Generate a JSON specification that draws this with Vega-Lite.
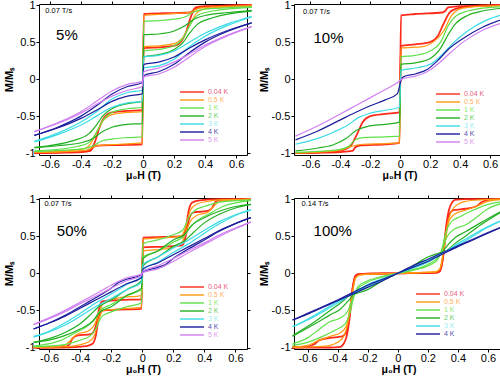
{
"$schema":"https://vega.github.io/schema/vega-lite/v6.json",
"background":"white",
"padding":{"left":2,"top":-2,"right":0,"bottom":0},
"config":{
 "view":{"stroke":"black","strokeWidth":1},
 "font":"Liberation Sans",
 "axis":{"domain":false,"grid":false,"tickColor":"black","tickSize":3,"labelFont":"Liberation Sans","labelFontSize":11,"labelColor":"black","labelPadding":1,"titleFont":"Liberation Sans","titleFontSize":11,"titleFontWeight":"bold","titleColor":"black","titlePadding":2,"labelOverlap":false},
 "axisX":{"titlePadding":1,"labelPadding":0,"titleFontSize":10.5},
 "legend":{"orient":"none","title":null,"symbolType":"M-3,0H3","symbolSize":64,"symbolStrokeWidth":1.4,"symbolFillColor":"transparent","labelFontSize":7,"labelFont":"Liberation Sans","rowPadding":0,"labelOffset":11,"padding":0,
  "labelColor":{"expr":"datum.label=='0.04 K'?'#e8607a':datum.label=='0.5 K'?'#ffb060':datum.label=='1 K'?'#8ee870':datum.label=='2 K'?'#66cc66':datum.label=='3 K'?'#99eeee':datum.label=='4 K'?'#5050b0':'#dd99ee'"}},
 "line":{"interpolate":"monotone"}
},
"datasets":{
"ann":[{"p":"5","rate":"0.07 T/s","pct":"5%"},{"p":"10","rate":"0.07 T/s","pct":"10%"},{"p":"50","rate":"0.07 T/s","pct":"50%"},{"p":"100","rate":"0.14 T/s","pct":"100%"}],
"m":[
{"p":"5","T":"0.04 K","c":"a","x":-0.7,"y":-1},{"p":"5","T":"0.04 K","c":"a","x":-0.55,"y":-0.995},{"p":"5","T":"0.04 K","c":"a","x":-0.4,"y":-0.985},{"p":"5","T":"0.04 K","c":"a","x":-0.34,"y":-0.97},{"p":"5","T":"0.04 K","c":"a","x":-0.32,"y":-0.92},{"p":"5","T":"0.04 K","c":"a","x":-0.3,"y":-0.9},{"p":"5","T":"0.04 K","c":"a","x":-0.15,"y":-0.89},{"p":"5","T":"0.04 K","c":"a","x":-0.005,"y":-0.88},
{"p":"5","T":"0.04 K","c":"a","x":0.005,"y":0.88},{"p":"5","T":"0.04 K","c":"a","x":0.15,"y":0.89},{"p":"5","T":"0.04 K","c":"a","x":0.3,"y":0.9},{"p":"5","T":"0.04 K","c":"a","x":0.32,"y":0.92},{"p":"5","T":"0.04 K","c":"a","x":0.34,"y":0.97},{"p":"5","T":"0.04 K","c":"a","x":0.4,"y":0.985},{"p":"5","T":"0.04 K","c":"a","x":0.55,"y":0.995},{"p":"5","T":"0.04 K","c":"a","x":0.7,"y":1},
{"p":"5","T":"0.04 K","c":"b","x":-0.7,"y":-1},{"p":"5","T":"0.04 K","c":"b","x":-0.55,"y":-0.99},{"p":"5","T":"0.04 K","c":"b","x":-0.4,"y":-0.98},{"p":"5","T":"0.04 K","c":"b","x":-0.34,"y":-0.95},{"p":"5","T":"0.04 K","c":"b","x":-0.31,"y":-0.85},{"p":"5","T":"0.04 K","c":"b","x":-0.28,"y":-0.65},{"p":"5","T":"0.04 K","c":"b","x":-0.25,"y":-0.52},{"p":"5","T":"0.04 K","c":"b","x":-0.2,"y":-0.45},{"p":"5","T":"0.04 K","c":"b","x":-0.1,"y":-0.43},{"p":"5","T":"0.04 K","c":"b","x":-0.005,"y":-0.42},
{"p":"5","T":"0.04 K","c":"b","x":0.005,"y":0.42},{"p":"5","T":"0.04 K","c":"b","x":0.1,"y":0.43},{"p":"5","T":"0.04 K","c":"b","x":0.2,"y":0.45},{"p":"5","T":"0.04 K","c":"b","x":0.25,"y":0.52},{"p":"5","T":"0.04 K","c":"b","x":0.28,"y":0.65},{"p":"5","T":"0.04 K","c":"b","x":0.31,"y":0.85},{"p":"5","T":"0.04 K","c":"b","x":0.34,"y":0.95},{"p":"5","T":"0.04 K","c":"b","x":0.4,"y":0.98},{"p":"5","T":"0.04 K","c":"b","x":0.55,"y":0.99},{"p":"5","T":"0.04 K","c":"b","x":0.7,"y":1},
{"p":"5","T":"0.5 K","c":"a","x":-0.7,"y":-0.99},{"p":"5","T":"0.5 K","c":"a","x":-0.45,"y":-0.975},{"p":"5","T":"0.5 K","c":"a","x":-0.36,"y":-0.96},{"p":"5","T":"0.5 K","c":"a","x":-0.33,"y":-0.93},{"p":"5","T":"0.5 K","c":"a","x":-0.3,"y":-0.9},{"p":"5","T":"0.5 K","c":"a","x":-0.15,"y":-0.88},{"p":"5","T":"0.5 K","c":"a","x":-0.005,"y":-0.86},
{"p":"5","T":"0.5 K","c":"a","x":0.005,"y":0.86},{"p":"5","T":"0.5 K","c":"a","x":0.15,"y":0.88},{"p":"5","T":"0.5 K","c":"a","x":0.3,"y":0.9},{"p":"5","T":"0.5 K","c":"a","x":0.33,"y":0.93},{"p":"5","T":"0.5 K","c":"a","x":0.36,"y":0.96},{"p":"5","T":"0.5 K","c":"a","x":0.45,"y":0.975},{"p":"5","T":"0.5 K","c":"a","x":0.7,"y":0.99},
{"p":"5","T":"0.5 K","c":"b","x":-0.7,"y":-0.99},{"p":"5","T":"0.5 K","c":"b","x":-0.5,"y":-0.97},{"p":"5","T":"0.5 K","c":"b","x":-0.38,"y":-0.94},{"p":"5","T":"0.5 K","c":"b","x":-0.34,"y":-0.88},{"p":"5","T":"0.5 K","c":"b","x":-0.3,"y":-0.72},{"p":"5","T":"0.5 K","c":"b","x":-0.26,"y":-0.57},{"p":"5","T":"0.5 K","c":"b","x":-0.2,"y":-0.48},{"p":"5","T":"0.5 K","c":"b","x":-0.1,"y":-0.45},{"p":"5","T":"0.5 K","c":"b","x":-0.005,"y":-0.44},
{"p":"5","T":"0.5 K","c":"b","x":0.005,"y":0.44},{"p":"5","T":"0.5 K","c":"b","x":0.1,"y":0.45},{"p":"5","T":"0.5 K","c":"b","x":0.2,"y":0.48},{"p":"5","T":"0.5 K","c":"b","x":0.26,"y":0.57},{"p":"5","T":"0.5 K","c":"b","x":0.3,"y":0.72},{"p":"5","T":"0.5 K","c":"b","x":0.34,"y":0.88},{"p":"5","T":"0.5 K","c":"b","x":0.38,"y":0.94},{"p":"5","T":"0.5 K","c":"b","x":0.5,"y":0.97},{"p":"5","T":"0.5 K","c":"b","x":0.7,"y":0.99},
{"p":"5","T":"1 K","c":"a","x":-0.7,"y":-0.98},{"p":"5","T":"1 K","c":"a","x":-0.5,"y":-0.96},{"p":"5","T":"1 K","c":"a","x":-0.38,"y":-0.94},{"p":"5","T":"1 K","c":"a","x":-0.32,"y":-0.9},{"p":"5","T":"1 K","c":"a","x":-0.27,"y":-0.84},{"p":"5","T":"1 K","c":"a","x":-0.2,"y":-0.81},{"p":"5","T":"1 K","c":"a","x":-0.1,"y":-0.79},{"p":"5","T":"1 K","c":"a","x":-0.005,"y":-0.78},
{"p":"5","T":"1 K","c":"a","x":0.005,"y":0.78},{"p":"5","T":"1 K","c":"a","x":0.1,"y":0.79},{"p":"5","T":"1 K","c":"a","x":0.2,"y":0.81},{"p":"5","T":"1 K","c":"a","x":0.27,"y":0.84},{"p":"5","T":"1 K","c":"a","x":0.32,"y":0.9},{"p":"5","T":"1 K","c":"a","x":0.38,"y":0.94},{"p":"5","T":"1 K","c":"a","x":0.5,"y":0.96},{"p":"5","T":"1 K","c":"a","x":0.7,"y":0.98},
{"p":"5","T":"1 K","c":"b","x":-0.7,"y":-0.97},{"p":"5","T":"1 K","c":"b","x":-0.45,"y":-0.92},{"p":"5","T":"1 K","c":"b","x":-0.35,"y":-0.86},{"p":"5","T":"1 K","c":"b","x":-0.3,"y":-0.72},{"p":"5","T":"1 K","c":"b","x":-0.26,"y":-0.56},{"p":"5","T":"1 K","c":"b","x":-0.2,"y":-0.45},{"p":"5","T":"1 K","c":"b","x":-0.1,"y":-0.4},{"p":"5","T":"1 K","c":"b","x":-0.005,"y":-0.38},
{"p":"5","T":"1 K","c":"b","x":0.005,"y":0.38},{"p":"5","T":"1 K","c":"b","x":0.1,"y":0.4},{"p":"5","T":"1 K","c":"b","x":0.2,"y":0.45},{"p":"5","T":"1 K","c":"b","x":0.26,"y":0.56},{"p":"5","T":"1 K","c":"b","x":0.3,"y":0.72},{"p":"5","T":"1 K","c":"b","x":0.35,"y":0.86},{"p":"5","T":"1 K","c":"b","x":0.45,"y":0.92},{"p":"5","T":"1 K","c":"b","x":0.7,"y":0.97},
{"p":"5","T":"2 K","c":"a","x":-0.7,"y":-0.93},{"p":"5","T":"2 K","c":"a","x":-0.55,"y":-0.9},{"p":"5","T":"2 K","c":"a","x":-0.4,"y":-0.86},{"p":"5","T":"2 K","c":"a","x":-0.32,"y":-0.8},{"p":"5","T":"2 K","c":"a","x":-0.27,"y":-0.72},{"p":"5","T":"2 K","c":"a","x":-0.2,"y":-0.65},{"p":"5","T":"2 K","c":"a","x":-0.1,"y":-0.61},{"p":"5","T":"2 K","c":"a","x":-0.005,"y":-0.6},
{"p":"5","T":"2 K","c":"a","x":0.005,"y":0.6},{"p":"5","T":"2 K","c":"a","x":0.1,"y":0.61},{"p":"5","T":"2 K","c":"a","x":0.2,"y":0.65},{"p":"5","T":"2 K","c":"a","x":0.27,"y":0.72},{"p":"5","T":"2 K","c":"a","x":0.32,"y":0.8},{"p":"5","T":"2 K","c":"a","x":0.4,"y":0.86},{"p":"5","T":"2 K","c":"a","x":0.55,"y":0.9},{"p":"5","T":"2 K","c":"a","x":0.7,"y":0.93},
{"p":"5","T":"2 K","c":"b","x":-0.7,"y":-0.92},{"p":"5","T":"2 K","c":"b","x":-0.45,"y":-0.83},{"p":"5","T":"2 K","c":"b","x":-0.35,"y":-0.74},{"p":"5","T":"2 K","c":"b","x":-0.3,"y":-0.62},{"p":"5","T":"2 K","c":"b","x":-0.26,"y":-0.5},{"p":"5","T":"2 K","c":"b","x":-0.2,"y":-0.4},{"p":"5","T":"2 K","c":"b","x":-0.1,"y":-0.33},{"p":"5","T":"2 K","c":"b","x":-0.005,"y":-0.3},
{"p":"5","T":"2 K","c":"b","x":0.005,"y":0.3},{"p":"5","T":"2 K","c":"b","x":0.1,"y":0.33},{"p":"5","T":"2 K","c":"b","x":0.2,"y":0.4},{"p":"5","T":"2 K","c":"b","x":0.26,"y":0.5},{"p":"5","T":"2 K","c":"b","x":0.3,"y":0.62},{"p":"5","T":"2 K","c":"b","x":0.35,"y":0.74},{"p":"5","T":"2 K","c":"b","x":0.45,"y":0.83},{"p":"5","T":"2 K","c":"b","x":0.7,"y":0.92},
{"p":"5","T":"3 K","c":"a","x":-0.7,"y":-0.85},{"p":"5","T":"3 K","c":"a","x":-0.55,"y":-0.75},{"p":"5","T":"3 K","c":"a","x":-0.4,"y":-0.62},{"p":"5","T":"3 K","c":"a","x":-0.3,"y":-0.5},{"p":"5","T":"3 K","c":"a","x":-0.2,"y":-0.38},{"p":"5","T":"3 K","c":"a","x":-0.1,"y":-0.32},{"p":"5","T":"3 K","c":"a","x":-0.005,"y":-0.3},
{"p":"5","T":"3 K","c":"a","x":0.005,"y":0.3},{"p":"5","T":"3 K","c":"a","x":0.1,"y":0.32},{"p":"5","T":"3 K","c":"a","x":0.2,"y":0.38},{"p":"5","T":"3 K","c":"a","x":0.3,"y":0.5},{"p":"5","T":"3 K","c":"a","x":0.4,"y":0.62},{"p":"5","T":"3 K","c":"a","x":0.55,"y":0.75},{"p":"5","T":"3 K","c":"a","x":0.7,"y":0.85},
{"p":"5","T":"3 K","c":"b","x":-0.7,"y":-0.84},{"p":"5","T":"3 K","c":"b","x":-0.55,"y":-0.73},{"p":"5","T":"3 K","c":"b","x":-0.4,"y":-0.58},{"p":"5","T":"3 K","c":"b","x":-0.3,"y":-0.44},{"p":"5","T":"3 K","c":"b","x":-0.2,"y":-0.27},{"p":"5","T":"3 K","c":"b","x":-0.1,"y":-0.18},{"p":"5","T":"3 K","c":"b","x":-0.005,"y":-0.15},
{"p":"5","T":"3 K","c":"b","x":0.005,"y":0.15},{"p":"5","T":"3 K","c":"b","x":0.1,"y":0.18},{"p":"5","T":"3 K","c":"b","x":0.2,"y":0.27},{"p":"5","T":"3 K","c":"b","x":0.3,"y":0.44},{"p":"5","T":"3 K","c":"b","x":0.4,"y":0.58},{"p":"5","T":"3 K","c":"b","x":0.55,"y":0.73},{"p":"5","T":"3 K","c":"b","x":0.7,"y":0.84},
{"p":"5","T":"4 K","c":"a","x":-0.7,"y":-0.76},{"p":"5","T":"4 K","c":"a","x":-0.55,"y":-0.66},{"p":"5","T":"4 K","c":"a","x":-0.4,"y":-0.53},{"p":"5","T":"4 K","c":"a","x":-0.3,"y":-0.42},{"p":"5","T":"4 K","c":"a","x":-0.2,"y":-0.3},{"p":"5","T":"4 K","c":"a","x":-0.1,"y":-0.23},{"p":"5","T":"4 K","c":"a","x":-0.005,"y":-0.2},
{"p":"5","T":"4 K","c":"a","x":0.005,"y":0.2},{"p":"5","T":"4 K","c":"a","x":0.1,"y":0.23},{"p":"5","T":"4 K","c":"a","x":0.2,"y":0.3},{"p":"5","T":"4 K","c":"a","x":0.3,"y":0.42},{"p":"5","T":"4 K","c":"a","x":0.4,"y":0.53},{"p":"5","T":"4 K","c":"a","x":0.55,"y":0.66},{"p":"5","T":"4 K","c":"a","x":0.7,"y":0.76},
{"p":"5","T":"4 K","c":"b","x":-0.7,"y":-0.76},{"p":"5","T":"4 K","c":"b","x":-0.55,"y":-0.65},{"p":"5","T":"4 K","c":"b","x":-0.4,"y":-0.5},{"p":"5","T":"4 K","c":"b","x":-0.3,"y":-0.36},{"p":"5","T":"4 K","c":"b","x":-0.2,"y":-0.2},{"p":"5","T":"4 K","c":"b","x":-0.1,"y":-0.1},{"p":"5","T":"4 K","c":"b","x":-0.005,"y":-0.05},
{"p":"5","T":"4 K","c":"b","x":0.005,"y":0.05},{"p":"5","T":"4 K","c":"b","x":0.1,"y":0.1},{"p":"5","T":"4 K","c":"b","x":0.2,"y":0.2},{"p":"5","T":"4 K","c":"b","x":0.3,"y":0.36},{"p":"5","T":"4 K","c":"b","x":0.4,"y":0.5},{"p":"5","T":"4 K","c":"b","x":0.55,"y":0.65},{"p":"5","T":"4 K","c":"b","x":0.7,"y":0.76},
{"p":"5","T":"5 K","c":"a","x":-0.7,"y":-0.71},{"p":"5","T":"5 K","c":"a","x":-0.55,"y":-0.6},{"p":"5","T":"5 K","c":"a","x":-0.4,"y":-0.46},{"p":"5","T":"5 K","c":"a","x":-0.3,"y":-0.34},{"p":"5","T":"5 K","c":"a","x":-0.2,"y":-0.23},{"p":"5","T":"5 K","c":"a","x":-0.1,"y":-0.15},{"p":"5","T":"5 K","c":"a","x":-0.005,"y":-0.1},
{"p":"5","T":"5 K","c":"a","x":0.005,"y":0.1},{"p":"5","T":"5 K","c":"a","x":0.1,"y":0.15},{"p":"5","T":"5 K","c":"a","x":0.2,"y":0.23},{"p":"5","T":"5 K","c":"a","x":0.3,"y":0.34},{"p":"5","T":"5 K","c":"a","x":0.4,"y":0.46},{"p":"5","T":"5 K","c":"a","x":0.55,"y":0.6},{"p":"5","T":"5 K","c":"a","x":0.7,"y":0.71},
{"p":"5","T":"5 K","c":"b","x":-0.7,"y":-0.71},{"p":"5","T":"5 K","c":"b","x":-0.55,"y":-0.59},{"p":"5","T":"5 K","c":"b","x":-0.4,"y":-0.44},{"p":"5","T":"5 K","c":"b","x":-0.3,"y":-0.3},{"p":"5","T":"5 K","c":"b","x":-0.2,"y":-0.16},{"p":"5","T":"5 K","c":"b","x":-0.1,"y":-0.07},{"p":"5","T":"5 K","c":"b","x":-0.005,"y":-0.03},
{"p":"5","T":"5 K","c":"b","x":0.005,"y":0.03},{"p":"5","T":"5 K","c":"b","x":0.1,"y":0.07},{"p":"5","T":"5 K","c":"b","x":0.2,"y":0.16},{"p":"5","T":"5 K","c":"b","x":0.3,"y":0.3},{"p":"5","T":"5 K","c":"b","x":0.4,"y":0.44},{"p":"5","T":"5 K","c":"b","x":0.55,"y":0.59},{"p":"5","T":"5 K","c":"b","x":0.7,"y":0.71},

{"p":"10","T":"0.04 K","c":"a","x":-0.7,"y":-1},{"p":"10","T":"0.04 K","c":"a","x":-0.55,"y":-0.995},{"p":"10","T":"0.04 K","c":"a","x":-0.4,"y":-0.985},{"p":"10","T":"0.04 K","c":"a","x":-0.32,"y":-0.97},{"p":"10","T":"0.04 K","c":"a","x":-0.3,"y":-0.92},{"p":"10","T":"0.04 K","c":"a","x":-0.28,"y":-0.9},{"p":"10","T":"0.04 K","c":"a","x":-0.1,"y":-0.88},{"p":"10","T":"0.04 K","c":"a","x":-0.005,"y":-0.86},
{"p":"10","T":"0.04 K","c":"a","x":0.005,"y":0.86},{"p":"10","T":"0.04 K","c":"a","x":0.1,"y":0.88},{"p":"10","T":"0.04 K","c":"a","x":0.28,"y":0.9},{"p":"10","T":"0.04 K","c":"a","x":0.3,"y":0.92},{"p":"10","T":"0.04 K","c":"a","x":0.32,"y":0.97},{"p":"10","T":"0.04 K","c":"a","x":0.4,"y":0.985},{"p":"10","T":"0.04 K","c":"a","x":0.55,"y":0.995},{"p":"10","T":"0.04 K","c":"a","x":0.7,"y":1},
{"p":"10","T":"0.04 K","c":"b","x":-0.7,"y":-1},{"p":"10","T":"0.04 K","c":"b","x":-0.45,"y":-0.98},{"p":"10","T":"0.04 K","c":"b","x":-0.37,"y":-0.95},{"p":"10","T":"0.04 K","c":"b","x":-0.33,"y":-0.9},{"p":"10","T":"0.04 K","c":"b","x":-0.29,"y":-0.75},{"p":"10","T":"0.04 K","c":"b","x":-0.25,"y":-0.58},{"p":"10","T":"0.04 K","c":"b","x":-0.2,"y":-0.5},{"p":"10","T":"0.04 K","c":"b","x":-0.1,"y":-0.47},{"p":"10","T":"0.04 K","c":"b","x":-0.005,"y":-0.45},
{"p":"10","T":"0.04 K","c":"b","x":0.005,"y":0.45},{"p":"10","T":"0.04 K","c":"b","x":0.1,"y":0.47},{"p":"10","T":"0.04 K","c":"b","x":0.2,"y":0.5},{"p":"10","T":"0.04 K","c":"b","x":0.25,"y":0.58},{"p":"10","T":"0.04 K","c":"b","x":0.29,"y":0.75},{"p":"10","T":"0.04 K","c":"b","x":0.33,"y":0.9},{"p":"10","T":"0.04 K","c":"b","x":0.37,"y":0.95},{"p":"10","T":"0.04 K","c":"b","x":0.45,"y":0.98},{"p":"10","T":"0.04 K","c":"b","x":0.7,"y":1},
{"p":"10","T":"0.5 K","c":"a","x":-0.7,"y":-1},{"p":"10","T":"0.5 K","c":"a","x":-0.5,"y":-0.98},{"p":"10","T":"0.5 K","c":"a","x":-0.4,"y":-0.96},{"p":"10","T":"0.5 K","c":"a","x":-0.33,"y":-0.91},{"p":"10","T":"0.5 K","c":"a","x":-0.25,"y":-0.88},{"p":"10","T":"0.5 K","c":"a","x":-0.1,"y":-0.87},{"p":"10","T":"0.5 K","c":"a","x":-0.005,"y":-0.86},
{"p":"10","T":"0.5 K","c":"a","x":0.005,"y":0.42},{"p":"10","T":"0.5 K","c":"a","x":0.15,"y":0.44},{"p":"10","T":"0.5 K","c":"a","x":0.22,"y":0.5},{"p":"10","T":"0.5 K","c":"a","x":0.29,"y":0.65},{"p":"10","T":"0.5 K","c":"a","x":0.34,"y":0.85},{"p":"10","T":"0.5 K","c":"a","x":0.4,"y":0.95},{"p":"10","T":"0.5 K","c":"a","x":0.5,"y":0.98},{"p":"10","T":"0.5 K","c":"a","x":0.7,"y":0.995},
{"p":"10","T":"1 K","c":"a","x":-0.7,"y":-0.99},{"p":"10","T":"1 K","c":"a","x":-0.5,"y":-0.97},{"p":"10","T":"1 K","c":"a","x":-0.4,"y":-0.95},{"p":"10","T":"1 K","c":"a","x":-0.34,"y":-0.9},{"p":"10","T":"1 K","c":"a","x":-0.3,"y":-0.82},{"p":"10","T":"1 K","c":"a","x":-0.25,"y":-0.79},{"p":"10","T":"1 K","c":"a","x":-0.1,"y":-0.78},{"p":"10","T":"1 K","c":"a","x":-0.005,"y":-0.77},
{"p":"10","T":"1 K","c":"a","x":0.005,"y":0.3},{"p":"10","T":"1 K","c":"a","x":0.1,"y":0.32},{"p":"10","T":"1 K","c":"a","x":0.2,"y":0.38},{"p":"10","T":"1 K","c":"a","x":0.27,"y":0.5},{"p":"10","T":"1 K","c":"a","x":0.32,"y":0.72},{"p":"10","T":"1 K","c":"a","x":0.37,"y":0.85},{"p":"10","T":"1 K","c":"a","x":0.45,"y":0.92},{"p":"10","T":"1 K","c":"a","x":0.55,"y":0.96},{"p":"10","T":"1 K","c":"a","x":0.7,"y":0.98},
{"p":"10","T":"2 K","c":"a","x":-0.7,"y":-0.97},{"p":"10","T":"2 K","c":"a","x":-0.55,"y":-0.93},{"p":"10","T":"2 K","c":"a","x":-0.45,"y":-0.89},{"p":"10","T":"2 K","c":"a","x":-0.36,"y":-0.8},{"p":"10","T":"2 K","c":"a","x":-0.3,"y":-0.7},{"p":"10","T":"2 K","c":"a","x":-0.22,"y":-0.64},{"p":"10","T":"2 K","c":"a","x":-0.1,"y":-0.61},{"p":"10","T":"2 K","c":"a","x":-0.005,"y":-0.58},
{"p":"10","T":"2 K","c":"a","x":0.005,"y":0.2},{"p":"10","T":"2 K","c":"a","x":0.1,"y":0.22},{"p":"10","T":"2 K","c":"a","x":0.2,"y":0.28},{"p":"10","T":"2 K","c":"a","x":0.27,"y":0.42},{"p":"10","T":"2 K","c":"a","x":0.32,"y":0.6},{"p":"10","T":"2 K","c":"a","x":0.37,"y":0.75},{"p":"10","T":"2 K","c":"a","x":0.45,"y":0.86},{"p":"10","T":"2 K","c":"a","x":0.55,"y":0.92},{"p":"10","T":"2 K","c":"a","x":0.7,"y":0.96},
{"p":"10","T":"3 K","c":"a","x":-0.7,"y":-0.88},{"p":"10","T":"3 K","c":"a","x":-0.55,"y":-0.8},{"p":"10","T":"3 K","c":"a","x":-0.45,"y":-0.72},{"p":"10","T":"3 K","c":"a","x":-0.35,"y":-0.62},{"p":"10","T":"3 K","c":"a","x":-0.28,"y":-0.52},{"p":"10","T":"3 K","c":"a","x":-0.2,"y":-0.46},{"p":"10","T":"3 K","c":"a","x":-0.1,"y":-0.42},{"p":"10","T":"3 K","c":"a","x":-0.005,"y":-0.38},
{"p":"10","T":"3 K","c":"a","x":0.005,"y":0.12},{"p":"10","T":"3 K","c":"a","x":0.1,"y":0.15},{"p":"10","T":"3 K","c":"a","x":0.2,"y":0.2},{"p":"10","T":"3 K","c":"a","x":0.28,"y":0.33},{"p":"10","T":"3 K","c":"a","x":0.35,"y":0.48},{"p":"10","T":"3 K","c":"a","x":0.45,"y":0.65},{"p":"10","T":"3 K","c":"a","x":0.58,"y":0.8},{"p":"10","T":"3 K","c":"a","x":0.7,"y":0.88},
{"p":"10","T":"4 K","c":"a","x":-0.7,"y":-0.82},{"p":"10","T":"4 K","c":"a","x":-0.55,"y":-0.7},{"p":"10","T":"4 K","c":"a","x":-0.4,"y":-0.55},{"p":"10","T":"4 K","c":"a","x":-0.3,"y":-0.45},{"p":"10","T":"4 K","c":"a","x":-0.2,"y":-0.36},{"p":"10","T":"4 K","c":"a","x":-0.1,"y":-0.28},{"p":"10","T":"4 K","c":"a","x":-0.02,"y":-0.2},
{"p":"10","T":"4 K","c":"a","x":0.005,"y":-0.02},{"p":"10","T":"4 K","c":"a","x":0.02,"y":0.03},{"p":"10","T":"4 K","c":"a","x":0.1,"y":0.07},{"p":"10","T":"4 K","c":"a","x":0.18,"y":0.13},{"p":"10","T":"4 K","c":"a","x":0.25,"y":0.25},{"p":"10","T":"4 K","c":"a","x":0.32,"y":0.4},{"p":"10","T":"4 K","c":"a","x":0.42,"y":0.55},{"p":"10","T":"4 K","c":"a","x":0.55,"y":0.7},{"p":"10","T":"4 K","c":"a","x":0.7,"y":0.82},
{"p":"10","T":"5 K","c":"a","x":-0.7,"y":-0.77},{"p":"10","T":"5 K","c":"a","x":-0.55,"y":-0.63},{"p":"10","T":"5 K","c":"a","x":-0.4,"y":-0.47},{"p":"10","T":"5 K","c":"a","x":-0.3,"y":-0.36},{"p":"10","T":"5 K","c":"a","x":-0.2,"y":-0.25},{"p":"10","T":"5 K","c":"a","x":-0.1,"y":-0.14},{"p":"10","T":"5 K","c":"a","x":-0.02,"y":-0.05},
{"p":"10","T":"5 K","c":"a","x":0.01,"y":0},{"p":"10","T":"5 K","c":"a","x":0.1,"y":0.04},{"p":"10","T":"5 K","c":"a","x":0.18,"y":0.1},{"p":"10","T":"5 K","c":"a","x":0.25,"y":0.2},{"p":"10","T":"5 K","c":"a","x":0.32,"y":0.33},{"p":"10","T":"5 K","c":"a","x":0.42,"y":0.5},{"p":"10","T":"5 K","c":"a","x":0.55,"y":0.66},{"p":"10","T":"5 K","c":"a","x":0.7,"y":0.77},

{"p":"50","T":"0.04 K","c":"a","x":-0.7,"y":-1},{"p":"50","T":"0.04 K","c":"a","x":-0.5,"y":-1},{"p":"50","T":"0.04 K","c":"a","x":-0.36,"y":-0.98},{"p":"50","T":"0.04 K","c":"a","x":-0.32,"y":-0.95},{"p":"50","T":"0.04 K","c":"a","x":-0.3,"y":-0.85},{"p":"50","T":"0.04 K","c":"a","x":-0.28,"y":-0.6},{"p":"50","T":"0.04 K","c":"a","x":-0.26,"y":-0.5},{"p":"50","T":"0.04 K","c":"a","x":-0.15,"y":-0.49},{"p":"50","T":"0.04 K","c":"a","x":-0.005,"y":-0.48},
{"p":"50","T":"0.04 K","c":"a","x":0.005,"y":0.48},{"p":"50","T":"0.04 K","c":"a","x":0.15,"y":0.49},{"p":"50","T":"0.04 K","c":"a","x":0.26,"y":0.5},{"p":"50","T":"0.04 K","c":"a","x":0.28,"y":0.6},{"p":"50","T":"0.04 K","c":"a","x":0.3,"y":0.85},{"p":"50","T":"0.04 K","c":"a","x":0.32,"y":0.95},{"p":"50","T":"0.04 K","c":"a","x":0.36,"y":0.98},{"p":"50","T":"0.04 K","c":"a","x":0.5,"y":1},{"p":"50","T":"0.04 K","c":"a","x":0.7,"y":1},
{"p":"50","T":"0.04 K","c":"b","x":-0.7,"y":-1},{"p":"50","T":"0.04 K","c":"b","x":-0.5,"y":-0.99},{"p":"50","T":"0.04 K","c":"b","x":-0.47,"y":-0.96},{"p":"50","T":"0.04 K","c":"b","x":-0.45,"y":-0.88},{"p":"50","T":"0.04 K","c":"b","x":-0.42,"y":-0.84},{"p":"50","T":"0.04 K","c":"b","x":-0.33,"y":-0.82},{"p":"50","T":"0.04 K","c":"b","x":-0.3,"y":-0.72},{"p":"50","T":"0.04 K","c":"b","x":-0.28,"y":-0.5},{"p":"50","T":"0.04 K","c":"b","x":-0.26,"y":-0.38},{"p":"50","T":"0.04 K","c":"b","x":-0.15,"y":-0.36},{"p":"50","T":"0.04 K","c":"b","x":-0.005,"y":-0.35},
{"p":"50","T":"0.04 K","c":"b","x":0.005,"y":0.35},{"p":"50","T":"0.04 K","c":"b","x":0.15,"y":0.36},{"p":"50","T":"0.04 K","c":"b","x":0.26,"y":0.38},{"p":"50","T":"0.04 K","c":"b","x":0.28,"y":0.5},{"p":"50","T":"0.04 K","c":"b","x":0.3,"y":0.72},{"p":"50","T":"0.04 K","c":"b","x":0.33,"y":0.82},{"p":"50","T":"0.04 K","c":"b","x":0.42,"y":0.84},{"p":"50","T":"0.04 K","c":"b","x":0.45,"y":0.88},{"p":"50","T":"0.04 K","c":"b","x":0.47,"y":0.96},{"p":"50","T":"0.04 K","c":"b","x":0.5,"y":0.99},{"p":"50","T":"0.04 K","c":"b","x":0.7,"y":1},
{"p":"50","T":"0.5 K","c":"a","x":-0.7,"y":-1},{"p":"50","T":"0.5 K","c":"a","x":-0.5,"y":-0.99},{"p":"50","T":"0.5 K","c":"a","x":-0.42,"y":-0.97},{"p":"50","T":"0.5 K","c":"a","x":-0.35,"y":-0.93},{"p":"50","T":"0.5 K","c":"a","x":-0.31,"y":-0.85},{"p":"50","T":"0.5 K","c":"a","x":-0.28,"y":-0.62},{"p":"50","T":"0.5 K","c":"a","x":-0.25,"y":-0.5},{"p":"50","T":"0.5 K","c":"a","x":-0.15,"y":-0.48},{"p":"50","T":"0.5 K","c":"a","x":-0.005,"y":-0.46},
{"p":"50","T":"0.5 K","c":"a","x":0.005,"y":0.46},{"p":"50","T":"0.5 K","c":"a","x":0.15,"y":0.48},{"p":"50","T":"0.5 K","c":"a","x":0.25,"y":0.5},{"p":"50","T":"0.5 K","c":"a","x":0.28,"y":0.62},{"p":"50","T":"0.5 K","c":"a","x":0.31,"y":0.85},{"p":"50","T":"0.5 K","c":"a","x":0.35,"y":0.93},{"p":"50","T":"0.5 K","c":"a","x":0.42,"y":0.97},{"p":"50","T":"0.5 K","c":"a","x":0.5,"y":0.99},{"p":"50","T":"0.5 K","c":"a","x":0.7,"y":1},
{"p":"50","T":"0.5 K","c":"b","x":-0.7,"y":-1},{"p":"50","T":"0.5 K","c":"b","x":-0.5,"y":-0.97},{"p":"50","T":"0.5 K","c":"b","x":-0.46,"y":-0.9},{"p":"50","T":"0.5 K","c":"b","x":-0.42,"y":-0.82},{"p":"50","T":"0.5 K","c":"b","x":-0.35,"y":-0.78},{"p":"50","T":"0.5 K","c":"b","x":-0.31,"y":-0.7},{"p":"50","T":"0.5 K","c":"b","x":-0.28,"y":-0.55},{"p":"50","T":"0.5 K","c":"b","x":-0.25,"y":-0.4},{"p":"50","T":"0.5 K","c":"b","x":-0.15,"y":-0.33},{"p":"50","T":"0.5 K","c":"b","x":-0.005,"y":-0.3},
{"p":"50","T":"0.5 K","c":"b","x":0.005,"y":0.3},{"p":"50","T":"0.5 K","c":"b","x":0.15,"y":0.33},{"p":"50","T":"0.5 K","c":"b","x":0.25,"y":0.4},{"p":"50","T":"0.5 K","c":"b","x":0.28,"y":0.55},{"p":"50","T":"0.5 K","c":"b","x":0.31,"y":0.7},{"p":"50","T":"0.5 K","c":"b","x":0.35,"y":0.78},{"p":"50","T":"0.5 K","c":"b","x":0.42,"y":0.82},{"p":"50","T":"0.5 K","c":"b","x":0.46,"y":0.9},{"p":"50","T":"0.5 K","c":"b","x":0.5,"y":0.97},{"p":"50","T":"0.5 K","c":"b","x":0.7,"y":1},
{"p":"50","T":"1 K","c":"a","x":-0.7,"y":-0.99},{"p":"50","T":"1 K","c":"a","x":-0.5,"y":-0.96},{"p":"50","T":"1 K","c":"a","x":-0.4,"y":-0.9},{"p":"50","T":"1 K","c":"a","x":-0.34,"y":-0.85},{"p":"50","T":"1 K","c":"a","x":-0.3,"y":-0.75},{"p":"50","T":"1 K","c":"a","x":-0.26,"y":-0.58},{"p":"50","T":"1 K","c":"a","x":-0.2,"y":-0.52},{"p":"50","T":"1 K","c":"a","x":-0.1,"y":-0.45},{"p":"50","T":"1 K","c":"a","x":-0.005,"y":-0.4},
{"p":"50","T":"1 K","c":"a","x":0.005,"y":0.4},{"p":"50","T":"1 K","c":"a","x":0.1,"y":0.45},{"p":"50","T":"1 K","c":"a","x":0.2,"y":0.52},{"p":"50","T":"1 K","c":"a","x":0.26,"y":0.58},{"p":"50","T":"1 K","c":"a","x":0.3,"y":0.75},{"p":"50","T":"1 K","c":"a","x":0.34,"y":0.85},{"p":"50","T":"1 K","c":"a","x":0.4,"y":0.9},{"p":"50","T":"1 K","c":"a","x":0.5,"y":0.96},{"p":"50","T":"1 K","c":"a","x":0.7,"y":0.99},
{"p":"50","T":"1 K","c":"b","x":-0.7,"y":-0.98},{"p":"50","T":"1 K","c":"b","x":-0.52,"y":-0.9},{"p":"50","T":"1 K","c":"b","x":-0.43,"y":-0.8},{"p":"50","T":"1 K","c":"b","x":-0.36,"y":-0.72},{"p":"50","T":"1 K","c":"b","x":-0.31,"y":-0.62},{"p":"50","T":"1 K","c":"b","x":-0.27,"y":-0.5},{"p":"50","T":"1 K","c":"b","x":-0.2,"y":-0.42},{"p":"50","T":"1 K","c":"b","x":-0.1,"y":-0.3},{"p":"50","T":"1 K","c":"b","x":-0.005,"y":-0.22},
{"p":"50","T":"1 K","c":"b","x":0.005,"y":0.22},{"p":"50","T":"1 K","c":"b","x":0.1,"y":0.3},{"p":"50","T":"1 K","c":"b","x":0.2,"y":0.42},{"p":"50","T":"1 K","c":"b","x":0.27,"y":0.5},{"p":"50","T":"1 K","c":"b","x":0.31,"y":0.62},{"p":"50","T":"1 K","c":"b","x":0.36,"y":0.72},{"p":"50","T":"1 K","c":"b","x":0.43,"y":0.8},{"p":"50","T":"1 K","c":"b","x":0.52,"y":0.9},{"p":"50","T":"1 K","c":"b","x":0.7,"y":0.98},
{"p":"50","T":"2 K","c":"a","x":-0.7,"y":-0.93},{"p":"50","T":"2 K","c":"a","x":-0.6,"y":-0.9},{"p":"50","T":"2 K","c":"a","x":-0.5,"y":-0.84},{"p":"50","T":"2 K","c":"a","x":-0.4,"y":-0.75},{"p":"50","T":"2 K","c":"a","x":-0.32,"y":-0.65},{"p":"50","T":"2 K","c":"a","x":-0.27,"y":-0.52},{"p":"50","T":"2 K","c":"a","x":-0.2,"y":-0.45},{"p":"50","T":"2 K","c":"a","x":-0.1,"y":-0.3},{"p":"50","T":"2 K","c":"a","x":-0.005,"y":-0.2},
{"p":"50","T":"2 K","c":"a","x":0.005,"y":0.2},{"p":"50","T":"2 K","c":"a","x":0.1,"y":0.3},{"p":"50","T":"2 K","c":"a","x":0.2,"y":0.45},{"p":"50","T":"2 K","c":"a","x":0.27,"y":0.52},{"p":"50","T":"2 K","c":"a","x":0.32,"y":0.65},{"p":"50","T":"2 K","c":"a","x":0.4,"y":0.75},{"p":"50","T":"2 K","c":"a","x":0.5,"y":0.84},{"p":"50","T":"2 K","c":"a","x":0.6,"y":0.9},{"p":"50","T":"2 K","c":"a","x":0.7,"y":0.93},
{"p":"50","T":"2 K","c":"b","x":-0.7,"y":-0.93},{"p":"50","T":"2 K","c":"b","x":-0.6,"y":-0.88},{"p":"50","T":"2 K","c":"b","x":-0.5,"y":-0.8},{"p":"50","T":"2 K","c":"b","x":-0.4,"y":-0.68},{"p":"50","T":"2 K","c":"b","x":-0.33,"y":-0.55},{"p":"50","T":"2 K","c":"b","x":-0.28,"y":-0.45},{"p":"50","T":"2 K","c":"b","x":-0.2,"y":-0.36},{"p":"50","T":"2 K","c":"b","x":-0.1,"y":-0.22},{"p":"50","T":"2 K","c":"b","x":-0.005,"y":-0.1},
{"p":"50","T":"2 K","c":"b","x":0.005,"y":0.1},{"p":"50","T":"2 K","c":"b","x":0.1,"y":0.22},{"p":"50","T":"2 K","c":"b","x":0.2,"y":0.36},{"p":"50","T":"2 K","c":"b","x":0.28,"y":0.45},{"p":"50","T":"2 K","c":"b","x":0.33,"y":0.55},{"p":"50","T":"2 K","c":"b","x":0.4,"y":0.68},{"p":"50","T":"2 K","c":"b","x":0.5,"y":0.8},{"p":"50","T":"2 K","c":"b","x":0.6,"y":0.88},{"p":"50","T":"2 K","c":"b","x":0.7,"y":0.93},
{"p":"50","T":"3 K","c":"a","x":-0.7,"y":-0.86},{"p":"50","T":"3 K","c":"a","x":-0.6,"y":-0.79},{"p":"50","T":"3 K","c":"a","x":-0.5,"y":-0.7},{"p":"50","T":"3 K","c":"a","x":-0.4,"y":-0.58},{"p":"50","T":"3 K","c":"a","x":-0.3,"y":-0.45},{"p":"50","T":"3 K","c":"a","x":-0.2,"y":-0.34},{"p":"50","T":"3 K","c":"a","x":-0.1,"y":-0.22},{"p":"50","T":"3 K","c":"a","x":-0.005,"y":-0.12},
{"p":"50","T":"3 K","c":"a","x":0.005,"y":0.12},{"p":"50","T":"3 K","c":"a","x":0.1,"y":0.22},{"p":"50","T":"3 K","c":"a","x":0.2,"y":0.34},{"p":"50","T":"3 K","c":"a","x":0.3,"y":0.45},{"p":"50","T":"3 K","c":"a","x":0.4,"y":0.58},{"p":"50","T":"3 K","c":"a","x":0.5,"y":0.7},{"p":"50","T":"3 K","c":"a","x":0.6,"y":0.79},{"p":"50","T":"3 K","c":"a","x":0.7,"y":0.86},
{"p":"50","T":"3 K","c":"b","x":-0.7,"y":-0.85},{"p":"50","T":"3 K","c":"b","x":-0.6,"y":-0.78},{"p":"50","T":"3 K","c":"b","x":-0.5,"y":-0.67},{"p":"50","T":"3 K","c":"b","x":-0.4,"y":-0.54},{"p":"50","T":"3 K","c":"b","x":-0.3,"y":-0.4},{"p":"50","T":"3 K","c":"b","x":-0.2,"y":-0.28},{"p":"50","T":"3 K","c":"b","x":-0.1,"y":-0.15},{"p":"50","T":"3 K","c":"b","x":-0.005,"y":-0.05},
{"p":"50","T":"3 K","c":"b","x":0.005,"y":0.05},{"p":"50","T":"3 K","c":"b","x":0.1,"y":0.15},{"p":"50","T":"3 K","c":"b","x":0.2,"y":0.28},{"p":"50","T":"3 K","c":"b","x":0.3,"y":0.4},{"p":"50","T":"3 K","c":"b","x":0.4,"y":0.54},{"p":"50","T":"3 K","c":"b","x":0.5,"y":0.67},{"p":"50","T":"3 K","c":"b","x":0.6,"y":0.78},{"p":"50","T":"3 K","c":"b","x":0.7,"y":0.85},
{"p":"50","T":"4 K","c":"a","x":-0.7,"y":-0.75},{"p":"50","T":"4 K","c":"a","x":-0.6,"y":-0.67},{"p":"50","T":"4 K","c":"a","x":-0.5,"y":-0.58},{"p":"50","T":"4 K","c":"a","x":-0.4,"y":-0.47},{"p":"50","T":"4 K","c":"a","x":-0.3,"y":-0.36},{"p":"50","T":"4 K","c":"a","x":-0.2,"y":-0.25},{"p":"50","T":"4 K","c":"a","x":-0.1,"y":-0.14},{"p":"50","T":"4 K","c":"a","x":-0.005,"y":-0.06},
{"p":"50","T":"4 K","c":"a","x":0.005,"y":0.06},{"p":"50","T":"4 K","c":"a","x":0.1,"y":0.14},{"p":"50","T":"4 K","c":"a","x":0.2,"y":0.25},{"p":"50","T":"4 K","c":"a","x":0.3,"y":0.36},{"p":"50","T":"4 K","c":"a","x":0.4,"y":0.47},{"p":"50","T":"4 K","c":"a","x":0.5,"y":0.58},{"p":"50","T":"4 K","c":"a","x":0.6,"y":0.67},{"p":"50","T":"4 K","c":"a","x":0.7,"y":0.75},
{"p":"50","T":"4 K","c":"b","x":-0.7,"y":-0.75},{"p":"50","T":"4 K","c":"b","x":-0.6,"y":-0.67},{"p":"50","T":"4 K","c":"b","x":-0.5,"y":-0.57},{"p":"50","T":"4 K","c":"b","x":-0.4,"y":-0.45},{"p":"50","T":"4 K","c":"b","x":-0.3,"y":-0.33},{"p":"50","T":"4 K","c":"b","x":-0.2,"y":-0.2},{"p":"50","T":"4 K","c":"b","x":-0.15,"y":-0.12},{"p":"50","T":"4 K","c":"b","x":-0.1,"y":-0.08},{"p":"50","T":"4 K","c":"b","x":-0.005,"y":-0.02},
{"p":"50","T":"4 K","c":"b","x":0.005,"y":0.02},{"p":"50","T":"4 K","c":"b","x":0.1,"y":0.08},{"p":"50","T":"4 K","c":"b","x":0.15,"y":0.12},{"p":"50","T":"4 K","c":"b","x":0.2,"y":0.2},{"p":"50","T":"4 K","c":"b","x":0.3,"y":0.33},{"p":"50","T":"4 K","c":"b","x":0.4,"y":0.45},{"p":"50","T":"4 K","c":"b","x":0.5,"y":0.57},{"p":"50","T":"4 K","c":"b","x":0.6,"y":0.67},{"p":"50","T":"4 K","c":"b","x":0.7,"y":0.75},
{"p":"50","T":"5 K","c":"a","x":-0.7,"y":-0.69},{"p":"50","T":"5 K","c":"a","x":-0.6,"y":-0.61},{"p":"50","T":"5 K","c":"a","x":-0.5,"y":-0.52},{"p":"50","T":"5 K","c":"a","x":-0.4,"y":-0.41},{"p":"50","T":"5 K","c":"a","x":-0.3,"y":-0.31},{"p":"50","T":"5 K","c":"a","x":-0.2,"y":-0.2},{"p":"50","T":"5 K","c":"a","x":-0.1,"y":-0.1},{"p":"50","T":"5 K","c":"a","x":-0.005,"y":-0.03},
{"p":"50","T":"5 K","c":"a","x":0.005,"y":0.03},{"p":"50","T":"5 K","c":"a","x":0.1,"y":0.1},{"p":"50","T":"5 K","c":"a","x":0.2,"y":0.2},{"p":"50","T":"5 K","c":"a","x":0.3,"y":0.31},{"p":"50","T":"5 K","c":"a","x":0.4,"y":0.41},{"p":"50","T":"5 K","c":"a","x":0.5,"y":0.52},{"p":"50","T":"5 K","c":"a","x":0.6,"y":0.61},{"p":"50","T":"5 K","c":"a","x":0.7,"y":0.69},
{"p":"50","T":"5 K","c":"b","x":-0.7,"y":-0.69},{"p":"50","T":"5 K","c":"b","x":-0.6,"y":-0.6},{"p":"50","T":"5 K","c":"b","x":-0.5,"y":-0.5},{"p":"50","T":"5 K","c":"b","x":-0.4,"y":-0.39},{"p":"50","T":"5 K","c":"b","x":-0.3,"y":-0.28},{"p":"50","T":"5 K","c":"b","x":-0.2,"y":-0.16},{"p":"50","T":"5 K","c":"b","x":-0.1,"y":-0.06},{"p":"50","T":"5 K","c":"b","x":-0.005,"y":-0.01},
{"p":"50","T":"5 K","c":"b","x":0.005,"y":0.01},{"p":"50","T":"5 K","c":"b","x":0.1,"y":0.06},{"p":"50","T":"5 K","c":"b","x":0.2,"y":0.16},{"p":"50","T":"5 K","c":"b","x":0.3,"y":0.28},{"p":"50","T":"5 K","c":"b","x":0.4,"y":0.39},{"p":"50","T":"5 K","c":"b","x":0.5,"y":0.5},{"p":"50","T":"5 K","c":"b","x":0.6,"y":0.6},{"p":"50","T":"5 K","c":"b","x":0.7,"y":0.69},

{"p":"100","T":"0.04 K","c":"a","x":-0.7,"y":-1},{"p":"100","T":"0.04 K","c":"a","x":-0.45,"y":-1},{"p":"100","T":"0.04 K","c":"a","x":-0.38,"y":-0.99},{"p":"100","T":"0.04 K","c":"a","x":-0.36,"y":-0.95},{"p":"100","T":"0.04 K","c":"a","x":-0.34,"y":-0.85},{"p":"100","T":"0.04 K","c":"a","x":-0.32,"y":-0.6},{"p":"100","T":"0.04 K","c":"a","x":-0.3,"y":-0.2},{"p":"100","T":"0.04 K","c":"a","x":-0.28,"y":-0.03},{"p":"100","T":"0.04 K","c":"a","x":-0.26,"y":-0.01},{"p":"100","T":"0.04 K","c":"a","x":0,"y":0},
{"p":"100","T":"0.04 K","c":"a","x":0.26,"y":0.01},{"p":"100","T":"0.04 K","c":"a","x":0.28,"y":0.03},{"p":"100","T":"0.04 K","c":"a","x":0.3,"y":0.2},{"p":"100","T":"0.04 K","c":"a","x":0.32,"y":0.6},{"p":"100","T":"0.04 K","c":"a","x":0.34,"y":0.85},{"p":"100","T":"0.04 K","c":"a","x":0.36,"y":0.95},{"p":"100","T":"0.04 K","c":"a","x":0.38,"y":0.99},{"p":"100","T":"0.04 K","c":"a","x":0.45,"y":1},{"p":"100","T":"0.04 K","c":"a","x":0.7,"y":1},
{"p":"100","T":"0.04 K","c":"b","x":-0.7,"y":-1},{"p":"100","T":"0.04 K","c":"b","x":-0.6,"y":-0.99},{"p":"100","T":"0.04 K","c":"b","x":-0.56,"y":-0.96},{"p":"100","T":"0.04 K","c":"b","x":-0.52,"y":-0.9},{"p":"100","T":"0.04 K","c":"b","x":-0.45,"y":-0.87},{"p":"100","T":"0.04 K","c":"b","x":-0.37,"y":-0.85},{"p":"100","T":"0.04 K","c":"b","x":-0.34,"y":-0.78},{"p":"100","T":"0.04 K","c":"b","x":-0.32,"y":-0.55},{"p":"100","T":"0.04 K","c":"b","x":-0.3,"y":-0.2},{"p":"100","T":"0.04 K","c":"b","x":-0.28,"y":-0.03},{"p":"100","T":"0.04 K","c":"b","x":-0.26,"y":-0.01},{"p":"100","T":"0.04 K","c":"b","x":0,"y":0},
{"p":"100","T":"0.04 K","c":"b","x":0.26,"y":0.01},{"p":"100","T":"0.04 K","c":"b","x":0.28,"y":0.03},{"p":"100","T":"0.04 K","c":"b","x":0.3,"y":0.2},{"p":"100","T":"0.04 K","c":"b","x":0.32,"y":0.55},{"p":"100","T":"0.04 K","c":"b","x":0.34,"y":0.78},{"p":"100","T":"0.04 K","c":"b","x":0.37,"y":0.85},{"p":"100","T":"0.04 K","c":"b","x":0.45,"y":0.87},{"p":"100","T":"0.04 K","c":"b","x":0.52,"y":0.9},{"p":"100","T":"0.04 K","c":"b","x":0.56,"y":0.96},{"p":"100","T":"0.04 K","c":"b","x":0.6,"y":0.99},{"p":"100","T":"0.04 K","c":"b","x":0.7,"y":1},
{"p":"100","T":"0.5 K","c":"a","x":-0.7,"y":-1},{"p":"100","T":"0.5 K","c":"a","x":-0.55,"y":-0.99},{"p":"100","T":"0.5 K","c":"a","x":-0.45,"y":-0.97},{"p":"100","T":"0.5 K","c":"a","x":-0.4,"y":-0.93},{"p":"100","T":"0.5 K","c":"a","x":-0.36,"y":-0.85},{"p":"100","T":"0.5 K","c":"a","x":-0.33,"y":-0.65},{"p":"100","T":"0.5 K","c":"a","x":-0.3,"y":-0.25},{"p":"100","T":"0.5 K","c":"a","x":-0.28,"y":-0.06},{"p":"100","T":"0.5 K","c":"a","x":-0.25,"y":-0.02},{"p":"100","T":"0.5 K","c":"a","x":0,"y":0},
{"p":"100","T":"0.5 K","c":"a","x":0.25,"y":0.02},{"p":"100","T":"0.5 K","c":"a","x":0.28,"y":0.06},{"p":"100","T":"0.5 K","c":"a","x":0.3,"y":0.25},{"p":"100","T":"0.5 K","c":"a","x":0.33,"y":0.65},{"p":"100","T":"0.5 K","c":"a","x":0.36,"y":0.85},{"p":"100","T":"0.5 K","c":"a","x":0.4,"y":0.93},{"p":"100","T":"0.5 K","c":"a","x":0.45,"y":0.97},{"p":"100","T":"0.5 K","c":"a","x":0.55,"y":0.99},{"p":"100","T":"0.5 K","c":"a","x":0.7,"y":1},
{"p":"100","T":"0.5 K","c":"b","x":-0.7,"y":-0.995},{"p":"100","T":"0.5 K","c":"b","x":-0.6,"y":-0.97},{"p":"100","T":"0.5 K","c":"b","x":-0.52,"y":-0.9},{"p":"100","T":"0.5 K","c":"b","x":-0.45,"y":-0.85},{"p":"100","T":"0.5 K","c":"b","x":-0.38,"y":-0.8},{"p":"100","T":"0.5 K","c":"b","x":-0.34,"y":-0.7},{"p":"100","T":"0.5 K","c":"b","x":-0.31,"y":-0.35},{"p":"100","T":"0.5 K","c":"b","x":-0.28,"y":-0.06},{"p":"100","T":"0.5 K","c":"b","x":-0.25,"y":-0.02},{"p":"100","T":"0.5 K","c":"b","x":0,"y":0},
{"p":"100","T":"0.5 K","c":"b","x":0.25,"y":0.02},{"p":"100","T":"0.5 K","c":"b","x":0.28,"y":0.06},{"p":"100","T":"0.5 K","c":"b","x":0.31,"y":0.35},{"p":"100","T":"0.5 K","c":"b","x":0.34,"y":0.7},{"p":"100","T":"0.5 K","c":"b","x":0.38,"y":0.8},{"p":"100","T":"0.5 K","c":"b","x":0.45,"y":0.85},{"p":"100","T":"0.5 K","c":"b","x":0.52,"y":0.9},{"p":"100","T":"0.5 K","c":"b","x":0.6,"y":0.97},{"p":"100","T":"0.5 K","c":"b","x":0.7,"y":0.995},
{"p":"100","T":"1 K","c":"a","x":-0.7,"y":-0.97},{"p":"100","T":"1 K","c":"a","x":-0.6,"y":-0.93},{"p":"100","T":"1 K","c":"a","x":-0.5,"y":-0.85},{"p":"100","T":"1 K","c":"a","x":-0.42,"y":-0.77},{"p":"100","T":"1 K","c":"a","x":-0.35,"y":-0.68},{"p":"100","T":"1 K","c":"a","x":-0.32,"y":-0.55},{"p":"100","T":"1 K","c":"a","x":-0.29,"y":-0.3},{"p":"100","T":"1 K","c":"a","x":-0.26,"y":-0.17},{"p":"100","T":"1 K","c":"a","x":-0.2,"y":-0.1},{"p":"100","T":"1 K","c":"a","x":-0.1,"y":-0.04},{"p":"100","T":"1 K","c":"a","x":0,"y":0},
{"p":"100","T":"1 K","c":"a","x":0.1,"y":0.04},{"p":"100","T":"1 K","c":"a","x":0.2,"y":0.1},{"p":"100","T":"1 K","c":"a","x":0.26,"y":0.17},{"p":"100","T":"1 K","c":"a","x":0.29,"y":0.3},{"p":"100","T":"1 K","c":"a","x":0.32,"y":0.55},{"p":"100","T":"1 K","c":"a","x":0.35,"y":0.68},{"p":"100","T":"1 K","c":"a","x":0.42,"y":0.77},{"p":"100","T":"1 K","c":"a","x":0.5,"y":0.85},{"p":"100","T":"1 K","c":"a","x":0.6,"y":0.93},{"p":"100","T":"1 K","c":"a","x":0.7,"y":0.97},
{"p":"100","T":"1 K","c":"b","x":-0.7,"y":-0.95},{"p":"100","T":"1 K","c":"b","x":-0.6,"y":-0.87},{"p":"100","T":"1 K","c":"b","x":-0.52,"y":-0.75},{"p":"100","T":"1 K","c":"b","x":-0.45,"y":-0.65},{"p":"100","T":"1 K","c":"b","x":-0.38,"y":-0.6},{"p":"100","T":"1 K","c":"b","x":-0.33,"y":-0.5},{"p":"100","T":"1 K","c":"b","x":-0.3,"y":-0.35},{"p":"100","T":"1 K","c":"b","x":-0.27,"y":-0.22},{"p":"100","T":"1 K","c":"b","x":-0.2,"y":-0.12},{"p":"100","T":"1 K","c":"b","x":-0.1,"y":-0.05},{"p":"100","T":"1 K","c":"b","x":0,"y":0},
{"p":"100","T":"1 K","c":"b","x":0.1,"y":0.05},{"p":"100","T":"1 K","c":"b","x":0.2,"y":0.12},{"p":"100","T":"1 K","c":"b","x":0.27,"y":0.22},{"p":"100","T":"1 K","c":"b","x":0.3,"y":0.35},{"p":"100","T":"1 K","c":"b","x":0.33,"y":0.5},{"p":"100","T":"1 K","c":"b","x":0.38,"y":0.6},{"p":"100","T":"1 K","c":"b","x":0.45,"y":0.65},{"p":"100","T":"1 K","c":"b","x":0.52,"y":0.75},{"p":"100","T":"1 K","c":"b","x":0.6,"y":0.87},{"p":"100","T":"1 K","c":"b","x":0.7,"y":0.95},
{"p":"100","T":"2 K","c":"a","x":-0.7,"y":-0.85},{"p":"100","T":"2 K","c":"a","x":-0.55,"y":-0.68},{"p":"100","T":"2 K","c":"a","x":-0.45,"y":-0.56},{"p":"100","T":"2 K","c":"a","x":-0.38,"y":-0.48},{"p":"100","T":"2 K","c":"a","x":-0.32,"y":-0.35},{"p":"100","T":"2 K","c":"a","x":-0.28,"y":-0.25},{"p":"100","T":"2 K","c":"a","x":-0.2,"y":-0.18},{"p":"100","T":"2 K","c":"a","x":-0.1,"y":-0.08},{"p":"100","T":"2 K","c":"a","x":0,"y":0},
{"p":"100","T":"2 K","c":"a","x":0.1,"y":0.08},{"p":"100","T":"2 K","c":"a","x":0.2,"y":0.18},{"p":"100","T":"2 K","c":"a","x":0.28,"y":0.25},{"p":"100","T":"2 K","c":"a","x":0.32,"y":0.35},{"p":"100","T":"2 K","c":"a","x":0.38,"y":0.48},{"p":"100","T":"2 K","c":"a","x":0.45,"y":0.56},{"p":"100","T":"2 K","c":"a","x":0.55,"y":0.68},{"p":"100","T":"2 K","c":"a","x":0.7,"y":0.85},
{"p":"100","T":"2 K","c":"b","x":-0.7,"y":-0.84},{"p":"100","T":"2 K","c":"b","x":-0.55,"y":-0.65},{"p":"100","T":"2 K","c":"b","x":-0.45,"y":-0.5},{"p":"100","T":"2 K","c":"b","x":-0.38,"y":-0.4},{"p":"100","T":"2 K","c":"b","x":-0.32,"y":-0.3},{"p":"100","T":"2 K","c":"b","x":-0.27,"y":-0.27},{"p":"100","T":"2 K","c":"b","x":-0.2,"y":-0.22},{"p":"100","T":"2 K","c":"b","x":-0.1,"y":-0.1},{"p":"100","T":"2 K","c":"b","x":0,"y":0},
{"p":"100","T":"2 K","c":"b","x":0.1,"y":0.1},{"p":"100","T":"2 K","c":"b","x":0.2,"y":0.22},{"p":"100","T":"2 K","c":"b","x":0.27,"y":0.27},{"p":"100","T":"2 K","c":"b","x":0.32,"y":0.3},{"p":"100","T":"2 K","c":"b","x":0.38,"y":0.4},{"p":"100","T":"2 K","c":"b","x":0.45,"y":0.5},{"p":"100","T":"2 K","c":"b","x":0.55,"y":0.65},{"p":"100","T":"2 K","c":"b","x":0.7,"y":0.84},
{"p":"100","T":"3 K","c":"a","x":-0.7,"y":-0.72},{"p":"100","T":"3 K","c":"a","x":-0.6,"y":-0.63},{"p":"100","T":"3 K","c":"a","x":-0.5,"y":-0.52},{"p":"100","T":"3 K","c":"a","x":-0.4,"y":-0.4},{"p":"100","T":"3 K","c":"a","x":-0.3,"y":-0.27},{"p":"100","T":"3 K","c":"a","x":-0.2,"y":-0.15},{"p":"100","T":"3 K","c":"a","x":-0.1,"y":-0.07},{"p":"100","T":"3 K","c":"a","x":0,"y":0},
{"p":"100","T":"3 K","c":"a","x":0.1,"y":0.07},{"p":"100","T":"3 K","c":"a","x":0.2,"y":0.15},{"p":"100","T":"3 K","c":"a","x":0.3,"y":0.27},{"p":"100","T":"3 K","c":"a","x":0.4,"y":0.4},{"p":"100","T":"3 K","c":"a","x":0.5,"y":0.52},{"p":"100","T":"3 K","c":"a","x":0.6,"y":0.63},{"p":"100","T":"3 K","c":"a","x":0.7,"y":0.72},
{"p":"100","T":"3 K","c":"b","x":-0.7,"y":-0.72},{"p":"100","T":"3 K","c":"b","x":-0.6,"y":-0.62},{"p":"100","T":"3 K","c":"b","x":-0.5,"y":-0.5},{"p":"100","T":"3 K","c":"b","x":-0.4,"y":-0.38},{"p":"100","T":"3 K","c":"b","x":-0.3,"y":-0.28},{"p":"100","T":"3 K","c":"b","x":-0.2,"y":-0.18},{"p":"100","T":"3 K","c":"b","x":-0.1,"y":-0.09},{"p":"100","T":"3 K","c":"b","x":0,"y":0},
{"p":"100","T":"3 K","c":"b","x":0.1,"y":0.09},{"p":"100","T":"3 K","c":"b","x":0.2,"y":0.18},{"p":"100","T":"3 K","c":"b","x":0.3,"y":0.28},{"p":"100","T":"3 K","c":"b","x":0.4,"y":0.38},{"p":"100","T":"3 K","c":"b","x":0.5,"y":0.5},{"p":"100","T":"3 K","c":"b","x":0.6,"y":0.62},{"p":"100","T":"3 K","c":"b","x":0.7,"y":0.72},
{"p":"100","T":"4 K","c":"a","x":-0.7,"y":-0.63},{"p":"100","T":"4 K","c":"a","x":-0.6,"y":-0.54},{"p":"100","T":"4 K","c":"a","x":-0.5,"y":-0.45},{"p":"100","T":"4 K","c":"a","x":-0.4,"y":-0.36},{"p":"100","T":"4 K","c":"a","x":-0.3,"y":-0.26},{"p":"100","T":"4 K","c":"a","x":-0.2,"y":-0.16},{"p":"100","T":"4 K","c":"a","x":-0.1,"y":-0.08},{"p":"100","T":"4 K","c":"a","x":0,"y":0},
{"p":"100","T":"4 K","c":"a","x":0.1,"y":0.08},{"p":"100","T":"4 K","c":"a","x":0.2,"y":0.16},{"p":"100","T":"4 K","c":"a","x":0.3,"y":0.26},{"p":"100","T":"4 K","c":"a","x":0.4,"y":0.36},{"p":"100","T":"4 K","c":"a","x":0.5,"y":0.45},{"p":"100","T":"4 K","c":"a","x":0.6,"y":0.54},{"p":"100","T":"4 K","c":"a","x":0.7,"y":0.63},
{"p":"100","T":"4 K","c":"b","x":-0.7,"y":-0.63},{"p":"100","T":"4 K","c":"b","x":-0.6,"y":-0.55},{"p":"100","T":"4 K","c":"b","x":-0.5,"y":-0.46},{"p":"100","T":"4 K","c":"b","x":-0.4,"y":-0.37},{"p":"100","T":"4 K","c":"b","x":-0.3,"y":-0.28},{"p":"100","T":"4 K","c":"b","x":-0.2,"y":-0.19},{"p":"100","T":"4 K","c":"b","x":-0.1,"y":-0.1},{"p":"100","T":"4 K","c":"b","x":0,"y":0},
{"p":"100","T":"4 K","c":"b","x":0.1,"y":0.1},{"p":"100","T":"4 K","c":"b","x":0.2,"y":0.19},{"p":"100","T":"4 K","c":"b","x":0.3,"y":0.28},{"p":"100","T":"4 K","c":"b","x":0.4,"y":0.37},{"p":"100","T":"4 K","c":"b","x":0.5,"y":0.46},{"p":"100","T":"4 K","c":"b","x":0.6,"y":0.55},{"p":"100","T":"4 K","c":"b","x":0.7,"y":0.63}
]},
"columns":2,
"bounds":"flush",
"spacing":{"row":43,"column":47},
"resolve":{"scale":{"color":"independent","x":"independent","y":"independent"},"legend":{"color":"independent"}},
"concat":[
{"width":208,"height":151,"resolve":{"axis":{"x":"independent","y":"independent"}},
 "layer":[
 {"data":{"name":"m"},"transform":[{"filter":"datum.p=='5'"}],"mark":{"type":"line"},
  "encoding":{
   "x":{"field":"x","type":"quantitative","scale":{"domain":[-0.67,0.67],"nice":false,"zero":false},"axis":{"values":[-0.6,-0.4,-0.2,0,0.2,0.4,0.6],"labelExpr":"toString(datum.value)","title":"μ₀H (T)"}},
   "y":{"field":"y","type":"quantitative","scale":{"domain":[-1.025,1.015],"nice":false},"axis":{"values":[-1,-0.5,0,0.5,1],"labelExpr":"toString(datum.value)","title":"M/Mₛ"}},
   "color":{"field":"T","type":"nominal","scale":{"domain":["0.04 K","0.5 K","1 K","2 K","3 K","4 K","5 K"],"range":["#ff2a1a","#ff9a10","#5ee048","#22b022","#3adbe6","#1c1c9c","#d07ef0"]},"legend":{"legendX":148,"legendY":83}},
   "strokeWidth":{"condition":{"test":"datum.T=='0.04 K'","value":1.8},"value":1.2},
   "detail":{"field":"c"}}},
 {"data":{"name":"ann"},"transform":[{"filter":"datum.p=='5'"}],"mark":{"type":"text","align":"left","baseline":"middle","fontSize":7.5,"font":"Liberation Sans"},
  "encoding":{"x":{"datum":-0.63,"type":"quantitative","axis":{"orient":"top","values":[-0.6,-0.4,-0.2,0,0.2,0.4,0.6],"labels":false,"title":null}},
   "y":{"datum":0.92,"type":"quantitative","axis":{"orient":"right","values":[-1,-0.5,0,0.5,1],"labels":false,"title":null}},"text":{"field":"rate"}}},
 {"data":{"name":"ann"},"transform":[{"filter":"datum.p=='5'"}],"mark":{"type":"text","align":"left","baseline":"middle","fontSize":15,"font":"Liberation Sans"},
  "encoding":{"x":{"datum":-0.56,"type":"quantitative","axis":null},"y":{"datum":0.6,"type":"quantitative","axis":null},"text":{"field":"pct"}}}
 ]},
{"width":211,"height":151,"resolve":{"axis":{"x":"independent","y":"independent"}},
 "layer":[
 {"data":{"name":"m"},"transform":[{"filter":"datum.p=='10'"}],"mark":{"type":"line"},
  "encoding":{
   "x":{"field":"x","type":"quantitative","scale":{"domain":[-0.71,0.7],"nice":false,"zero":false},"axis":{"values":[-0.6,-0.4,-0.2,0,0.2,0.4,0.6],"labelExpr":"toString(datum.value)","title":"μ₀H (T)"}},
   "y":{"field":"y","type":"quantitative","scale":{"domain":[-1.025,1.015],"nice":false},"axis":{"values":[-1,-0.5,0,0.5,1],"labelExpr":"toString(datum.value)","title":"M/Mₛ"}},
   "color":{"field":"T","type":"nominal","scale":{"domain":["0.04 K","0.5 K","1 K","2 K","3 K","4 K","5 K"],"range":["#ff2a1a","#ff9a10","#5ee048","#22b022","#3adbe6","#1c1c9c","#d07ef0"]},"legend":{"legendX":149,"legendY":85}},
   "strokeWidth":{"condition":{"test":"datum.T=='0.04 K'","value":1.8},"value":1.2},
   "detail":{"field":"c"}}},
 {"data":{"name":"ann"},"transform":[{"filter":"datum.p=='10'"}],"mark":{"type":"text","align":"left","baseline":"middle","fontSize":7.5,"font":"Liberation Sans"},
  "encoding":{"x":{"datum":-0.65,"type":"quantitative","axis":{"orient":"top","values":[-0.6,-0.4,-0.2,0,0.2,0.4,0.6],"labels":false,"title":null}},
   "y":{"datum":0.91,"type":"quantitative","axis":{"orient":"right","values":[-1,-0.5,0,0.5,1],"labels":false,"title":null}},"text":{"field":"rate"}}},
 {"data":{"name":"ann"},"transform":[{"filter":"datum.p=='10'"}],"mark":{"type":"text","align":"left","baseline":"middle","fontSize":15,"font":"Liberation Sans"},
  "encoding":{"x":{"datum":-0.58,"type":"quantitative","axis":null},"y":{"datum":0.56,"type":"quantitative","axis":null},"text":{"field":"pct"}}}
 ]},
{"width":208,"height":151,"resolve":{"axis":{"x":"independent","y":"independent"}},
 "layer":[
 {"data":{"name":"m"},"transform":[{"filter":"datum.p=='50'"}],"mark":{"type":"line"},
  "encoding":{
   "x":{"field":"x","type":"quantitative","scale":{"domain":[-0.665,0.675],"nice":false,"zero":false},"axis":{"values":[-0.6,-0.4,-0.2,0,0.2,0.4,0.6],"labelExpr":"toString(datum.value)","title":"μ₀H (T)"}},
   "y":{"field":"y","type":"quantitative","scale":{"domain":[-1.02,1.015],"nice":false},"axis":{"values":[-1,-0.5,0,0.5,1],"labelExpr":"toString(datum.value)","title":"M/Mₛ"}},
   "color":{"field":"T","type":"nominal","scale":{"domain":["0.04 K","0.5 K","1 K","2 K","3 K","4 K","5 K"],"range":["#ff2a1a","#ff9a10","#5ee048","#22b022","#3adbe6","#1c1c9c","#d07ef0"]},"legend":{"legendX":148,"legendY":84}},
   "strokeWidth":{"condition":{"test":"datum.T=='0.04 K'","value":1.8},"value":1.2},
   "detail":{"field":"c"}}},
 {"data":{"name":"ann"},"transform":[{"filter":"datum.p=='50'"}],"mark":{"type":"text","align":"left","baseline":"middle","fontSize":7.5,"font":"Liberation Sans"},
  "encoding":{"x":{"datum":-0.63,"type":"quantitative","axis":{"orient":"top","values":[-0.6,-0.4,-0.2,0,0.2,0.4,0.6],"labels":false,"title":null}},
   "y":{"datum":0.93,"type":"quantitative","axis":{"orient":"right","values":[-1,-0.5,0,0.5,1],"labels":false,"title":null}},"text":{"field":"rate"}}},
 {"data":{"name":"ann"},"transform":[{"filter":"datum.p=='50'"}],"mark":{"type":"text","align":"left","baseline":"middle","fontSize":15,"font":"Liberation Sans"},
  "encoding":{"x":{"datum":-0.55,"type":"quantitative","axis":null},"y":{"datum":0.57,"type":"quantitative","axis":null},"text":{"field":"pct"}}}
 ]},
{"width":209,"height":151,"resolve":{"axis":{"x":"independent","y":"independent"}},
 "layer":[
 {"data":{"name":"m"},"transform":[{"filter":"datum.p=='100'"}],"mark":{"type":"line"},
  "encoding":{
   "x":{"field":"x","type":"quantitative","scale":{"domain":[-0.69,0.7],"nice":false,"zero":false},"axis":{"values":[-0.6,-0.4,-0.2,0,0.2,0.4,0.6],"labelExpr":"toString(datum.value)","title":"μ₀H (T)"}},
   "y":{"field":"y","type":"quantitative","scale":{"domain":[-1.02,1.015],"nice":false},"axis":{"values":[-1,-0.5,0,0.5,1],"labelExpr":"toString(datum.value)","title":"M/Mₛ"}},
   "color":{"field":"T","type":"nominal","scale":{"domain":["0.04 K","0.5 K","1 K","2 K","3 K","4 K"],"range":["#ff2a1a","#ff9a10","#5ee048","#22b022","#3adbe6","#1c1c9c"]},"legend":{"legendX":129,"legendY":91}},
   "strokeWidth":{"condition":{"test":"datum.T=='0.04 K'","value":1.8},"value":1.2},
   "detail":{"field":"c"}}},
 {"data":{"name":"ann"},"transform":[{"filter":"datum.p=='100'"}],"mark":{"type":"text","align":"left","baseline":"middle","fontSize":7.5,"font":"Liberation Sans"},
  "encoding":{"x":{"datum":-0.64,"type":"quantitative","axis":{"orient":"top","values":[-0.6,-0.4,-0.2,0,0.2,0.4,0.6],"labels":false,"title":null}},
   "y":{"datum":0.93,"type":"quantitative","axis":{"orient":"right","values":[-1,-0.5,0,0.5,1],"labels":false,"title":null}},"text":{"field":"rate"}}},
 {"data":{"name":"ann"},"transform":[{"filter":"datum.p=='100'"}],"mark":{"type":"text","align":"left","baseline":"middle","fontSize":15,"font":"Liberation Sans"},
  "encoding":{"x":{"datum":-0.56,"type":"quantitative","axis":null},"y":{"datum":0.57,"type":"quantitative","axis":null},"text":{"field":"pct"}}}
 ]}
]
}
